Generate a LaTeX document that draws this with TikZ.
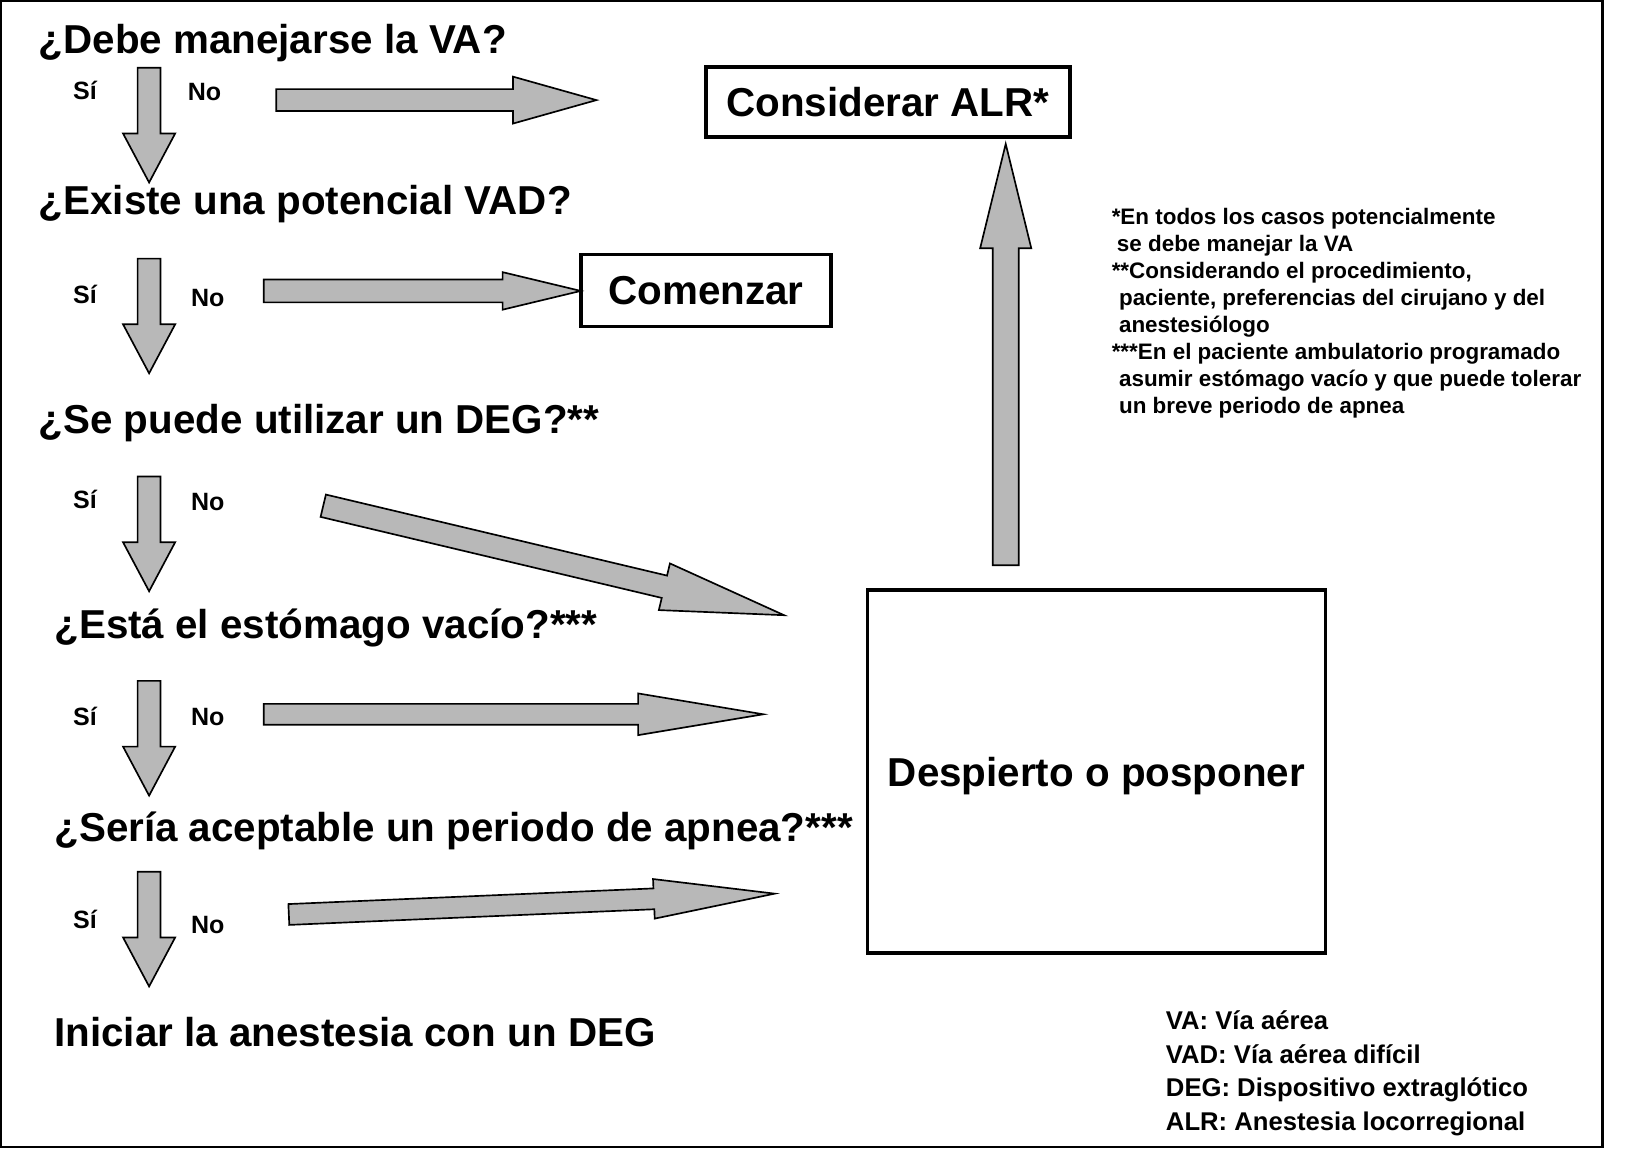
\documentclass[tikz,border=0pt]{standalone}
\usepackage{fontspec}
\setmainfont{Liberation Sans}
\definecolor{arrowgray}{RGB}{184,184,184}
\tikzset{
  qtext/.style={anchor=base west, inner sep=0pt, font=\fontsize{38.7}{40}\selectfont\bfseries},
  yn/.style={anchor=base west, inner sep=0pt, font=\fontsize{24}{26}\selectfont\bfseries},
  boxnode/.style={draw, line width=3.5pt, inner sep=0pt, font=\fontsize{38.7}{40}\selectfont\bfseries},
  blockstyle/.style={draw, fill=arrowgray, line width=1.6pt, line join=miter},
  fnote/.style={anchor=base west, inner sep=0pt, font=\fontsize{21.5}{24}\selectfont\bfseries},
  legend/.style={anchor=base west, inner sep=0pt, font=\fontsize{24.6}{26}\selectfont\bfseries},
}
% block arrow: x1,y1,x2,y2,headlen,shafthalf,headhalf
\newcommand{\blockarr}[7]{%
  \pgfmathsetmacro{\bdx}{#3-#1}%
  \pgfmathsetmacro{\bdyc}{#2-#4}%
  \pgfmathsetmacro{\blen}{veclen(\bdx,\bdyc)}%
  \pgfmathsetmacro{\bang}{atan2(\bdyc,\bdx)}%
  \begin{scope}[shift={(#1,#2)},rotate=\bang]
    \draw[blockstyle] (0,-#6) -- (\blen-#5,-#6) -- (\blen-#5,-#7) -- (\blen,0)
      -- (\blen-#5,#7) -- (\blen-#5,#6) -- (0,#6) -- cycle;
  \end{scope}}
\begin{document}
\begin{tikzpicture}[x=1pt,y=-1pt]
\useasboundingbox (0,0) rectangle (1568,1103);
\draw[line width=2.5pt] (1,1) rectangle (1537,1100);

% questions
\node[qtext] (q1) at (37,51) {¿Debe manejarse la VA?};
\node[qtext] (q2) at (37,206) {¿Existe una potencial VAD?};
\node[qtext] (q3) at (37,416) {¿Se puede utilizar un DEG?**};
\node[qtext] (q4) at (52,612) {¿Está el estómago vacío?***};
\node[qtext] (q5) at (52,807) {¿Sería aceptable un periodo de apnea?***};
\node[qtext] (q6) at (52,1004) {Iniciar la anestesia con un DEG};

% Si / No labels
\node[yn] (s1) at (70,95) {Sí};   \node[yn] (n1) at (180,96) {No};
\node[yn] (s2) at (70,291) {Sí};  \node[yn] (n2) at (183,294) {No};
\node[yn] (s3) at (70,488) {Sí};  \node[yn] (n3) at (183,490) {No};
\node[yn] (s4) at (70,696) {Sí};  \node[yn] (n4) at (183,696) {No};
\node[yn] (s5) at (70,890) {Sí};  \node[yn] (n5) at (183,895) {No};

% down arrows
\blockarr{143}{65}{143}{175}{47}{11}{25}
\blockarr{143}{248}{143}{358}{47}{11}{25}
\blockarr{143}{457}{143}{567}{47}{11}{25}
\blockarr{143}{653}{143}{763}{47}{11}{25}
\blockarr{143}{836}{143}{946}{47}{11}{25}

% "No" arrows
\blockarr{265}{96}{572}{96}{80}{10.5}{22.5}
\blockarr{253}{279}{557}{279}{75}{11}{18}
\blockarr{310}{485}{752}{590}{118}{11}{23}
\blockarr{253}{685}{732}{685}{120}{10}{20}
\blockarr{277}{877}{743}{857}{116}{10}{19}
% up arrow
\blockarr{964.5}{542}{964.5}{138}{100}{12.5}{24.5}

% boxes
\node[boxnode, minimum width=349pt, minimum height=67pt] (alr) at (851.5,98) {Considerar ALR*};
\node[boxnode, minimum width=240pt, minimum height=69pt] (com) at (677,278.5) {Comenzar};
\node[boxnode, minimum width=439pt, minimum height=348pt] (des) at (1051.5,740) {};
\node[qtext, anchor=base] (dest) at (1051.5,754) {Despierto o posponer};

% footnotes
\node[fnote] (f1) at (1066,215) {*En todos los casos potencialmente};
\node[fnote] (f2) at (1071,241) {se debe manejar la VA};
\node[fnote] (f3) at (1066,267) {**Considerando el procedimiento,};
\node[fnote] (f4) at (1073,293) {paciente, preferencias del cirujano y del};
\node[fnote] (f5) at (1073,319) {anestesiólogo};
\node[fnote] (f6) at (1066,345) {***En el paciente ambulatorio programado};
\node[fnote] (f7) at (1073,371) {asumir estómago vacío y que puede tolerar};
\node[fnote] (f8) at (1073,397) {un breve periodo de apnea};

% legend
\node[legend] (l1) at (1118,987) {VA: Vía aérea};
\node[legend] (l2) at (1118,1020) {VAD: Vía aérea difícil};
\node[legend] (l3) at (1118,1052) {DEG: Dispositivo extraglótico};
\node[legend] (l4) at (1118,1084) {ALR: Anestesia locorregional};
\end{tikzpicture}
\end{document}
